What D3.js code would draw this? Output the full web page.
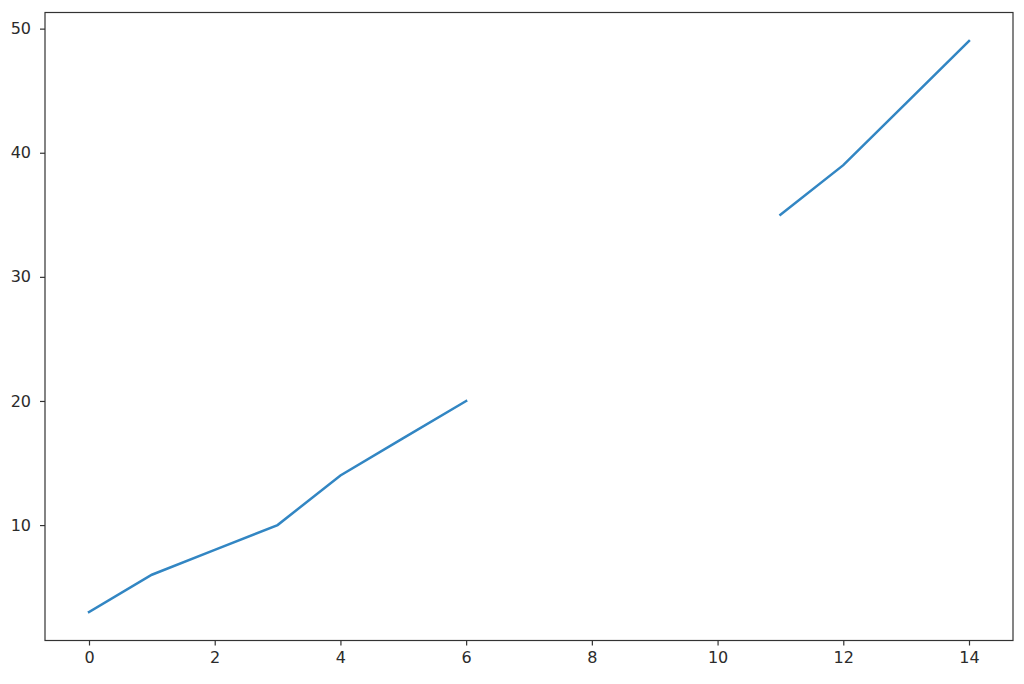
<!DOCTYPE html>
<meta charset="utf-8">
<script src="https://d3js.org/d3.v7.min.js"></script>
<style>
  body { margin: 0; background: #fff; }
  .tick text { font-family: "DejaVu Sans", sans-serif; font-size: 16px; fill: #2b2b2b; }
</style>
<div id="my_dataviz"></div>
<script>

// x positions and y values (null = gap in the line)
var xs = [0, 1, 2, 3, 4, 5, 6, 7, 8, 9, 10, 11, 12, 13, 14];
var ys = [3, 6, 8, 10, 14, 17, 20, null, null, null, null, 35, 39, 44, 49];
var xTicks = [0, 2, 4, 6, 8, 10, 12, 14];
var yTicks = [10, 20, 30, 40, 50];

var margin = {top: 12.5, right: 11, bottom: 43.5, left: 45},
    width = 1024 - margin.left - margin.right,
    height = 684 - margin.top - margin.bottom;

var svg = d3.select("#my_dataviz")
  .append("svg")
    .attr("width", 1024)
    .attr("height", 684)
  .append("g")
    .attr("transform", "translate(" + margin.left + "," + margin.top + ")");

// matplotlib-style 5% padding on both axes
var x = d3.scaleLinear()
  .domain([-0.7, 14.7])
  .range([0, width]);

var y = d3.scaleLinear()
  .domain([0.7, 51.3])
  .range([height, 0]);

var xAxis = svg.append("g")
  .attr("transform", "translate(0," + height + ")")
  .call(d3.axisBottom(x).tickValues(xTicks).tickFormat(d3.format("d")).tickSize(5).tickPadding(6));

var yAxis = svg.append("g")
  .call(d3.axisLeft(y).tickValues(yTicks).tickFormat(d3.format("d")).tickSize(5).tickPadding(9));

[xAxis, yAxis].forEach(function(a) {
  a.select(".domain").remove();
  a.selectAll(".tick line").attr("stroke", "#333").attr("stroke-width", 1.2);
});

// the line, broken where values are missing
var data = xs.map(function(d, i) { return {x: d, y: ys[i]}; });

svg.append("path")
  .datum(data)
  .attr("fill", "none")
  .attr("stroke", "#3286c3")
  .attr("stroke-width", 2.5)
  .attr("stroke-linecap", "square")
  .attr("d", d3.line()
    .defined(function(d) { return d.y != null; })
    .x(function(d) { return x(d.x); })
    .y(function(d) { return y(d.y); }));

// frame
svg.append("rect")
  .attr("width", width)
  .attr("height", height)
  .attr("fill", "none")
  .attr("stroke", "#333")
  .attr("stroke-width", 1.2);

</script>
